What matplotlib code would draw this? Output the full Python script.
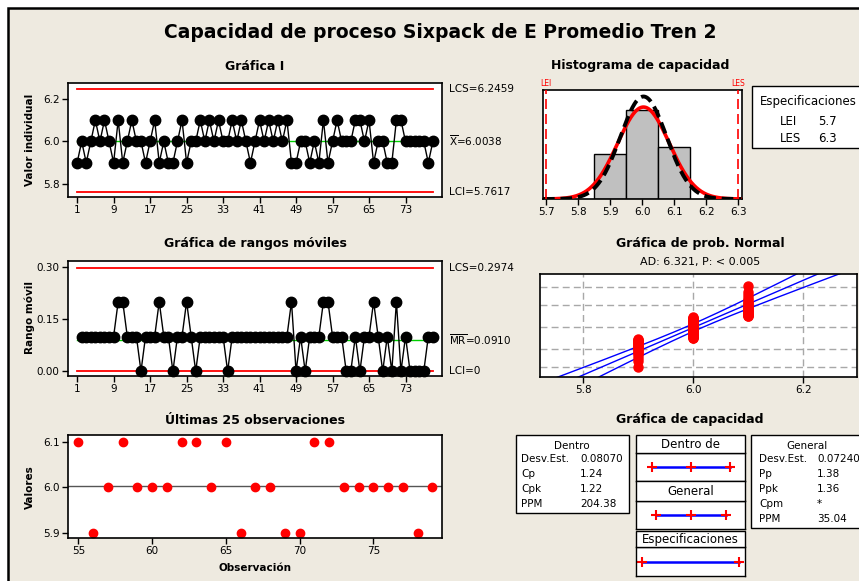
import matplotlib
matplotlib.use('Agg')
import matplotlib.pyplot as plt
import numpy as np
from statistics import NormalDist
from matplotlib.patches import Rectangle

plt.rcParams['font.family'] = 'DejaVu Sans'

# 79 lecturas individuales del tren 2
valores = [5.9, 6.0, 5.9, 6.0, 6.1, 6.0, 6.1, 6.0, 5.9, 6.1,
           5.9, 6.0, 6.1, 6.0, 6.0, 5.9, 6.0, 6.1, 5.9, 6.0,
           5.9, 5.9, 6.0, 6.1, 5.9, 6.0, 6.0, 6.1, 6.0, 6.1,
           6.0, 6.1, 6.0, 6.0, 6.1, 6.0, 6.1, 6.0, 5.9, 6.0,
           6.1, 6.0, 6.1, 6.0, 6.1, 6.0, 6.1, 5.9, 5.9, 6.0,
           6.0, 5.9, 6.0, 5.9, 6.1, 5.9, 6.0, 6.1, 6.0, 6.0,
           6.0, 6.1, 6.1, 6.0, 6.1, 5.9, 6.0, 6.0, 5.9, 5.9,
           6.1, 6.1, 6.0, 6.0, 6.0, 6.0, 6.0, 5.9, 6.0]

lei, les = 5.7, 6.3
media = 6.0038
lcs_i, lci_i = 6.2459, 5.7617
mr_medio, lcs_mr, lci_mr = 0.0910, 0.2974, 0.0
desv_dentro = 0.08070
desv_general = 0.07240
ad_texto = 'AD: 6.321, P: < 0.005'

dentro_stats = [('Desv.Est.', '0.08070'), ('Cp', '1.24'), ('Cpk', '1.22'), ('PPM', '204.38')]
general_stats = [('Desv.Est.', '0.07240'), ('Pp', '1.38'), ('Ppk', '1.36'), ('Cpm', '*'), ('PPM', '35.04')]

x = np.array(valores)
n = len(x)
obs = np.arange(1, n + 1)
mr = np.abs(np.diff(x))

W, H = 859, 581
fig = plt.figure(figsize=(W / 100, H / 100), dpi=100, facecolor='white')
fondo = '#EEEAE0'


def ax_px(x0, y0, x1, y1):
    a = fig.add_axes([x0 / W, 1 - y1 / H, (x1 - x0) / W, (y1 - y0) / H])
    for s in a.spines.values():
        s.set_linewidth(1.2)
    a.tick_params(direction='out', length=4, width=1, labelsize=7.5, pad=2)
    return a


def txt(x0, y0, s, **kw):
    kw.setdefault('ha', 'center')
    kw.setdefault('va', 'center')
    return fig.text(x0 / W, 1 - y0 / H, s, **kw)


def caja(x0, y0, x1, y1, fc='white', lw=1.0, z=0.5):
    r = Rectangle((x0 / W, 1 - y1 / H), (x1 - x0) / W, (y1 - y0) / H,
                  transform=fig.transFigure, fc=fc, ec='black', lw=lw, zorder=z)
    fig.patches.append(r)


# marco general
caja(8, 7.5, W + 10, H + 10, fc=fondo, lw=1.8, z=-1)

txt(440, 33, 'Capacidad de proceso Sixpack de E Promedio Tren 2',
    fontsize=13.5, fontweight='bold')

# ---- Gráfica I ----
ax1 = ax_px(68, 83, 442, 197)
ax1.plot([1, n], [lcs_i, lcs_i], color='red', lw=1.3)
ax1.plot([1, n], [lci_i, lci_i], color='red', lw=1.3)
ax1.plot([1, n], [media, media], color='#00D000', lw=1)
ax1.plot(obs, x, color='black', lw=1, marker='o', ms=7.5, zorder=3)
ax1.set_xlim(-1, 81)
ax1.set_ylim(5.739, 6.275)
ax1.set_xticks(np.arange(1, 80, 8))
ax1.set_yticks([5.8, 6.0, 6.2])
ax1.set_yticklabels(['5.8', '6.0', '6.2'])
tr = ax1.get_yaxis_transform()
ax1.text(1.02, lcs_i, 'LCS=6.2459', transform=tr, va='center', fontsize=7.5)
ax1.text(1.02, media, r'$\overline{\mathrm{X}}$=6.0038', transform=tr, va='center', fontsize=7.5)
ax1.text(1.02, lci_i, 'LCI=5.7617', transform=tr, va='center', fontsize=7.5)
txt(255, 66, 'Gráfica I', fontsize=9, fontweight='bold')
txt(30, 140, 'Valor individual', rotation=90, fontsize=7.5, fontweight='bold')

# ---- Rangos móviles ----
ax2 = ax_px(68, 261, 442, 376)
ax2.plot([1, n], [lcs_mr, lcs_mr], color='red', lw=1.3)
ax2.plot([1, n], [lci_mr, lci_mr], color='red', lw=1.3)
ax2.plot([1, n], [mr_medio, mr_medio], color='#00D000', lw=1)
ax2.plot(obs[1:], mr, color='black', lw=1, marker='o', ms=7.5, zorder=3, clip_on=False)
ax2.set_xlim(-1, 81)
ax2.set_ylim(-0.0135, 0.317)
ax2.set_xticks(np.arange(1, 80, 8))
ax2.set_yticks([0.0, 0.15, 0.30])
ax2.set_yticklabels(['0.00', '0.15', '0.30'])
tr = ax2.get_yaxis_transform()
ax2.text(1.02, lcs_mr, 'LCS=0.2974', transform=tr, va='center', fontsize=7.5)
ax2.text(1.02, mr_medio, r'$\overline{\mathrm{MR}}$=0.0910', transform=tr, va='center', fontsize=7.5)
ax2.text(1.02, lci_mr, 'LCI=0', transform=tr, va='center', fontsize=7.5)
txt(255, 243, 'Gráfica de rangos móviles', fontsize=9, fontweight='bold')
txt(30, 318, 'Rango móvil', rotation=90, fontsize=7.5, fontweight='bold')

# ---- Últimas 25 observaciones ----
ax3 = ax_px(68, 435, 442, 538)
ax3.axhline(media, color='#555555', lw=1)
ax3.plot(obs[-25:], x[-25:], 'o', color='red', ms=6, clip_on=False)
ax3.set_xlim(54.3, 79.65)
ax3.set_ylim(5.889, 6.115)
ax3.set_xticks([55, 60, 65, 70, 75])
ax3.set_yticks([5.9, 6.0, 6.1])
ax3.set_yticklabels(['5.9', '6.0', '6.1'])
txt(255, 420, 'Últimas 25 observaciones', fontsize=9, fontweight='bold')
txt(30, 487, 'Valores', rotation=90, fontsize=7.5, fontweight='bold')
txt(255, 568, 'Observación', fontsize=7.5, fontweight='bold')

# ---- Histograma de capacidad ----
ax4 = ax_px(543, 90, 742, 199)
bordes = [5.85, 5.95, 6.05, 6.15]
cuenta, _ = np.histogram(x, bins=bordes)
centros = [5.9, 6.0, 6.1]
ax4.bar(centros, cuenta, width=0.1, color='#C0C0C0', edgecolor='black', lw=1)
xs = np.linspace(5.69, 6.31, 400)
pdf_d = n * 0.1 * np.exp(-0.5 * ((xs - media) / desv_dentro) ** 2) / (desv_dentro * np.sqrt(2 * np.pi))
pdf_g = n * 0.1 * np.exp(-0.5 * ((xs - media) / desv_general) ** 2) / (desv_general * np.sqrt(2 * np.pi))
ax4.plot(xs, pdf_d, color='red', lw=2.6, zorder=3)
ax4.plot(xs, pdf_g, color='black', lw=2.8, ls=(0, (3, 1.5)), zorder=4)
for lim, nombre in [(lei, 'LEI'), (les, 'LES')]:
    ax4.axvline(lim, color='red', lw=1.2, ls=(0, (6, 3)), zorder=5)
    ax4.text(lim, 1.015, nombre, transform=ax4.get_xaxis_transform(), color='red',
             fontsize=5.5, ha='center', va='bottom')
ax4.set_xlim(5.69, 6.3115)
ax4.set_ylim(0, 46.3)
ax4.set_yticks([])
ax4.set_xticks(np.round(np.arange(5.7, 6.31, 0.1), 1))
ax4.set_xticklabels(['5.7', '5.8', '5.9', '6.0', '6.1', '6.2', '6.3'])
txt(640, 66, 'Histograma de capacidad', fontsize=9, fontweight='bold')

caja(752, 86, W + 20, 148)
txt(760, 102, 'Especificaciones', ha='left', fontsize=8.5)
txt(780, 121, 'LEI', ha='left', fontsize=8.5)
txt(818, 121, str(lei), ha='left', fontsize=8.5)
txt(780, 139, 'LES', ha='left', fontsize=8.5)
txt(818, 139, str(les), ha='left', fontsize=8.5)

# ---- Gráfica de probabilidad normal ----
ax5 = ax_px(540, 274, 857, 377)
nd = NormalDist()
orden = np.sort(x)
z = np.array([nd.inv_cdf((i - 0.3) / (n + 0.4)) for i in range(1, n + 1)])
zl = np.linspace(-3.2, 3.3, 200)
ajuste = media + zl * desv_general
banda = 1.96 * desv_general * np.sqrt(1 / n + zl ** 2 / (2 * (n - 1)))
for zp in [0.01, 0.10, 0.50, 0.90, 0.99]:
    ax5.axhline(nd.inv_cdf(zp), color='#A8A8A8', lw=1, ls=(0, (5, 3)), zorder=1)
for xv in [5.8, 6.0, 6.2]:
    ax5.axvline(xv, color='#A8A8A8', lw=1, ls=(0, (5, 3)), zorder=1)
ax5.plot(ajuste, zl, color='blue', lw=1, zorder=2)
ax5.plot(ajuste - banda, zl, color='blue', lw=1, zorder=2)
ax5.plot(ajuste + banda, zl, color='blue', lw=1, zorder=2)
ax5.plot(orden, z, 'o', color='red', ms=6.5, zorder=3)
ax5.set_xlim(5.721, 6.298)
ax5.set_ylim(-2.94, 3.08)
ax5.set_yticks([])
ax5.set_xticks([5.8, 6.0, 6.2])
ax5.set_xticklabels(['5.8', '6.0', '6.2'])
txt(700, 243, 'Gráfica de prob. Normal', fontsize=9, fontweight='bold')
txt(700, 262, ad_texto, fontsize=8)

# ---- Gráfica de capacidad ----
txt(690, 420, 'Gráfica de capacidad', fontsize=9, fontweight='bold')

caja(516, 435, 629, 513)
txt(572, 446, 'Dentro', fontsize=7.5)
for k, (et, v) in enumerate(dentro_stats):
    yy = 459 + k * 15
    txt(521, yy, et, ha='left', fontsize=7.5)
    txt(580, yy, v, ha='left', fontsize=7.5)

caja(751, 435, W + 20, 528)
txt(807, 446, 'General', fontsize=7.5)
for k, (et, v) in enumerate(general_stats):
    yy = 459 + k * 15
    txt(759, yy, et, ha='left', fontsize=7.5)
    txt(817, yy, v, ha='left', fontsize=7.5)

intervalos = [
    ('Dentro de', 435, 453, 481, [media - 3 * desv_dentro, media, media + 3 * desv_dentro]),
    ('General', 481, 501, 529, [media - 3 * desv_general, media, media + 3 * desv_general]),
    ('Especificaciones', 531, 547, 576, [lei, les]),
]
for nombre, y0, y1, y2, pts in intervalos:
    caja(636, y0, 745, y1)
    txt(690.5, (y0 + y1) / 2 + 0.5, nombre, fontsize=8.5)
    axi = fig.add_axes([636 / W, 1 - y2 / H, 109 / W, (y2 - y1) / H])
    axi.set_xlim(5.663, 6.337)
    axi.set_ylim(0, 1)
    axi.plot([pts[0], pts[-1]], [0.5, 0.5], color='blue', lw=1.8)
    axi.plot(pts, [0.5] * len(pts), '+', color='red', ms=7, mew=1.5)
    axi.set_xticks([])
    axi.set_yticks([])
    for s in axi.spines.values():
        s.set_linewidth(1.0)

fig.savefig('out.png', dpi=100, facecolor='white')
